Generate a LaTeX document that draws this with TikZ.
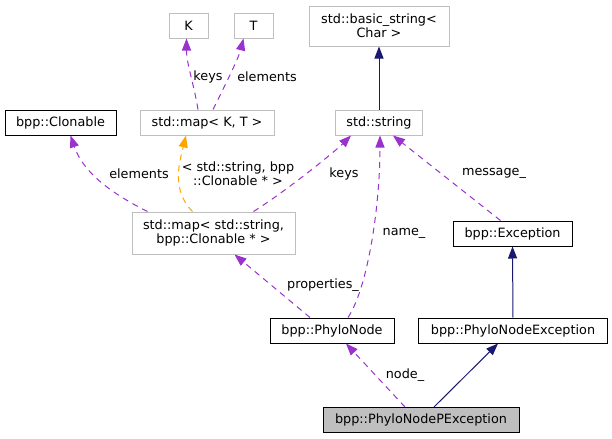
\documentclass[tikz,border=0pt]{standalone}
\usepackage{fontspec}
\setmainfont{DejaVu Sans}
\usetikzlibrary{arrows.meta,calc}
\definecolor{edgepurple}{HTML}{9A32CD}
\definecolor{edgenavy}{HTML}{191970}
\definecolor{edgeorange}{HTML}{FFA500}
\definecolor{boxgray}{HTML}{BFBFBF}
\begin{document}
\begin{tikzpicture}[x=0.75pt,y=-0.75pt,
  every node/.style={font=\fontsize{9.6}{10.5}\selectfont},
  sz/.style 2 args={minimum width=#1*0.75pt, minimum height=#2*0.75pt},
  cls/.style={draw=black, fill=white, inner sep=0pt, line width=0.75pt, align=center},
  ext/.style={draw=boxgray, fill=white, inner sep=0pt, line width=0.75pt, align=center},
  cur/.style={draw=black, fill=boxgray, inner sep=0pt, line width=0.75pt, align=center},
  tip/.style={-{Triangle[length=9pt,width=6.8pt]}},
  inh/.style={tip, draw=edgenavy, line width=0.75pt, -{Triangle[length=9pt,width=6.8pt,fill=edgenavy]}},
  use/.style={draw=edgepurple, line width=0.75pt, dash pattern=on 4.5pt off 3.75pt, -{Triangle[length=9pt,width=6.8pt,fill=edgepurple,sep=0pt]}},
  tpl/.style={draw=edgeorange, line width=0.75pt, dash pattern=on 4.5pt off 3.75pt, -{Triangle[length=9pt,width=6.8pt,fill=edgeorange]}},
  lbl/.style={inner sep=0pt, align=center}
]
\useasboundingbox (0,0) rectangle (612,439);
% nodes
\node[ext, sz={39}{25}] (K) at (188.5,25.5) {K};
\node[ext, sz={39}{25}] (T) at (253.5,25.5) {T};
\node[ext, sz={140}{40}] (bs) at (379,26) {std::basic\_string<\\Char >};
\node[cls, sz={111}{25}] (clon) at (60.5,122.5) {bpp::Clonable};
\node[ext, sz={134}{25}] (mapKT) at (207,122.5) {std::map< K, T >};
\node[ext, sz={87}{25}] (str) at (379,122.5) {std::string};
\node[ext, sz={163}{42}] (mapS) at (213.5,233) {std::map< std::string,\\bpp::Clonable * >};
\node[cls, sz={119}{25}] (exc) at (512.5,233.5) {bpp::Exception};
\node[cls, sz={124}{25}] (phn) at (332,330.5) {bpp::PhyloNode};
\node[cls, sz={189}{25}] (phne) at (513,330.5) {bpp::PhyloNodeException};
\node[cur, sz={196}{25}] (pe) at (421,420) {bpp::PhyloNodePException};
% edges
\draw[inh] (str.north) -- (bs.south);
\draw[use] ($(mapKT.north)+(-9,0)$) .. controls +(-4,-25) and +(0,25) .. ($(K.south)+(-2,0)$);
\draw[use] ($(mapKT.north)+(6,0)$) .. controls +(10,-20) and +(-5,20) .. ($(T.south)+(-10,0)$);
\draw[use] ($(mapS.north)+(-66,0)$) .. controls +(-40,-20) and +(12,35) .. ($(clon.south)+(10,0)$);
\draw[tpl] ($(mapS.north)+(-21,0)$) .. controls +(-22,-22) and +(-6,25) .. ($(mapKT.south)+(-21,0)$);
\draw[use] ($(mapS.north)+(40,0)$) .. controls +(35,-22) and +(-15,15) .. ($(str.south)+(-28,0)$);
\draw[use] ($(phn.north)+(16,0)$) .. controls +(20,-30) and +(0,70) .. ($(str.south)+(1,0)$);
\draw[use] ($(exc.north)+(-12,0)$) -- ($(str.south)+(14,0)$);
\draw[use] ($(phn.north)+(-22,0)$) -- ($(mapS.south)+(21,0)$);
\draw[inh] (phne.north) -- (exc.south);
\draw[use] ($(pe.north)+(-16,0)$) -- ($(phn.south)+(14,0)$);
\draw[inh] ($(pe.north)+(13,0)$) -- ($(phne.south)+(-15,0)$);
% labels
\node[lbl] (l1) at (208,77) {keys};
\node[lbl] (l2) at (267,77) {elements};
\node[lbl] (l3) at (139,173.5) {elements};
\node[lbl] (l4) at (238,173.5) {< std::string, bpp\\::Clonable * >};
\node[lbl] (l5) at (344,173.5) {keys};
\node[lbl] (l6) at (494,173.5) {message\_};
\node[lbl] (l7) at (404,233) {name\_};
\node[lbl] (l8) at (323,285) {properties\_};
\node[lbl] (l9) at (405,375) {node\_};
\end{tikzpicture}
\end{document}
